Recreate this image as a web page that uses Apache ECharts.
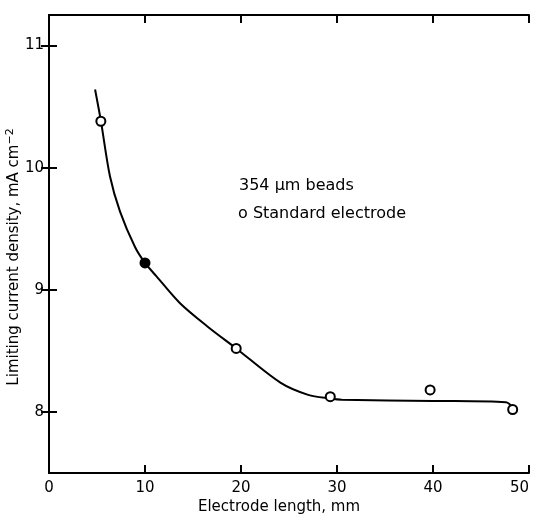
<!DOCTYPE html>
<html>
<head>
<meta charset="utf-8">
<script src="https://cdn.jsdelivr.net/npm/echarts@6/dist/echarts.min.js"></script>
<style>
	html, body { margin: 0; padding: 0; background: #fff; }
	#chart { width: 533px; height: 516px; }
</style>
</head>
<body>
<div id="chart"></div>
<script>
var xTicks = [0, 10, 20, 30, 40, 50];
var yTicks = [8, 9, 10, 11];

// open circles: standard electrode
var openX = [5.4, 19.5, 29.3, 39.7, 48.3];
var openY = [10.38, 8.52, 8.125, 8.18, 8.02];

// filled circle
var filledX = [10.0];
var filledY = [9.22];

// hand drawn trend curve
var curveX = [4.8, 5.4, 6.35, 7.4, 8.96, 10.0, 11.2, 13.65, 16.5, 19.5, 24.1, 27.0, 29.3, 30.5, 40.0, 47.6, 48.3];
var curveY = [10.64, 10.385, 9.93, 9.64, 9.35, 9.22, 9.11, 8.89, 8.70, 8.52, 8.24, 8.14, 8.11, 8.10, 8.09, 8.08, 8.04];

function pairs(xs, ys) {
	var out = [];
	for (var i = 0; i < xs.length; i++) {
		out.push([xs[i], ys[i]]);
	}
	return out;
}

var font = 'DejaVu Sans';

var axisLine = { show: true, lineStyle: { color: '#000', width: 2 } };
var tickStyle = { lineStyle: { color: '#000', width: 2 } };

var option = {
	animation: false,
	backgroundColor: '#fff',
	textStyle: { fontFamily: font, color: '#000' },
	grid: { left: 49, right: 4, top: 15, bottom: 43, containLabel: false, outerBoundsMode: 'none' },
	xAxis: [
		{
			type: 'value',
			min: 0,
			max: 50,
			interval: 10,
			name: 'Electrode length, mm',
			nameLocation: 'middle',
			nameGap: 27,
			nameMoveOverlap: false,
			nameTextStyle: { fontSize: 15, color: '#000', fontFamily: font, padding: [0, 20, 0, 0] },
			axisLine: axisLine,
			axisTick: { show: true, inside: true, length: 8, lineStyle: tickStyle.lineStyle },
			axisLabel: { fontSize: 15, color: '#000', margin: 8, fontFamily: font, alignMaxLabel: 'right' },
			splitLine: { show: false }
		},
		{
			type: 'value',
			position: 'top',
			min: 0,
			max: 50,
			interval: 10,
			axisLine: axisLine,
			axisTick: { show: true, inside: true, length: 8, lineStyle: tickStyle.lineStyle },
			axisLabel: { show: false },
			splitLine: { show: false }
		}
	],
	yAxis: [
		{
			type: 'value',
			min: 7.5,
			max: 11.25,
			name: 'Limiting current density, mA cm{sup|−2}',
			nameLocation: 'middle',
			nameRotate: 90,
			nameGap: 25,
			nameMoveOverlap: false,
			nameTextStyle: {
				fontSize: 15,
				color: '#000',
				fontFamily: font,
				padding: [0, 26, 0, 0],
				rich: {
					sup: { fontSize: 11, verticalAlign: 'top', padding: [0, 0, 8, 0], fontFamily: font }
				}
			},
			axisLine: axisLine,
			axisTick: { show: true, inside: true, length: 8, customValues: yTicks, lineStyle: tickStyle.lineStyle },
			axisLabel: { fontSize: 15, color: '#000', margin: 5, customValues: yTicks, fontFamily: font },
			splitLine: { show: false }
		},
		{
			type: 'value',
			position: 'right',
			min: 7.5,
			max: 11.25,
			axisLine: axisLine,
			axisTick: { show: true, inside: true, length: 8, customValues: yTicks, lineStyle: tickStyle.lineStyle },
			axisLabel: { show: false },
			splitLine: { show: false }
		}
	],
	graphic: [
		{
			type: 'text',
			left: 239,
			top: 178,
			style: { text: '354 μm beads', font: '16px "DejaVu Sans"', fill: '#000' }
		},
		{
			type: 'text',
			left: 238,
			top: 206,
			style: { text: 'o Standard electrode', font: '16px "DejaVu Sans"', fill: '#000' }
		}
	],
	series: [
		{
			name: 'curve',
			type: 'line',
			data: pairs(curveX, curveY),
			smooth: 0.3,
			showSymbol: false,
			lineStyle: { color: '#000', width: 2 },
			z: 2
		},
		{
			name: 'Standard electrode',
			type: 'scatter',
			data: pairs(openX, openY),
			symbol: 'circle',
			symbolSize: 9,
			itemStyle: { color: '#fff', borderColor: '#000', borderWidth: 2, opacity: 1 },
			z: 3
		},
		{
			name: 'filled',
			type: 'scatter',
			data: pairs(filledX, filledY),
			symbol: 'circle',
			symbolSize: 11,
			itemStyle: { color: '#000', opacity: 1 },
			z: 3
		}
	]
};

var myChart = echarts.init(document.getElementById('chart'));
myChart.setOption(option);
</script>
</body>
</html>
